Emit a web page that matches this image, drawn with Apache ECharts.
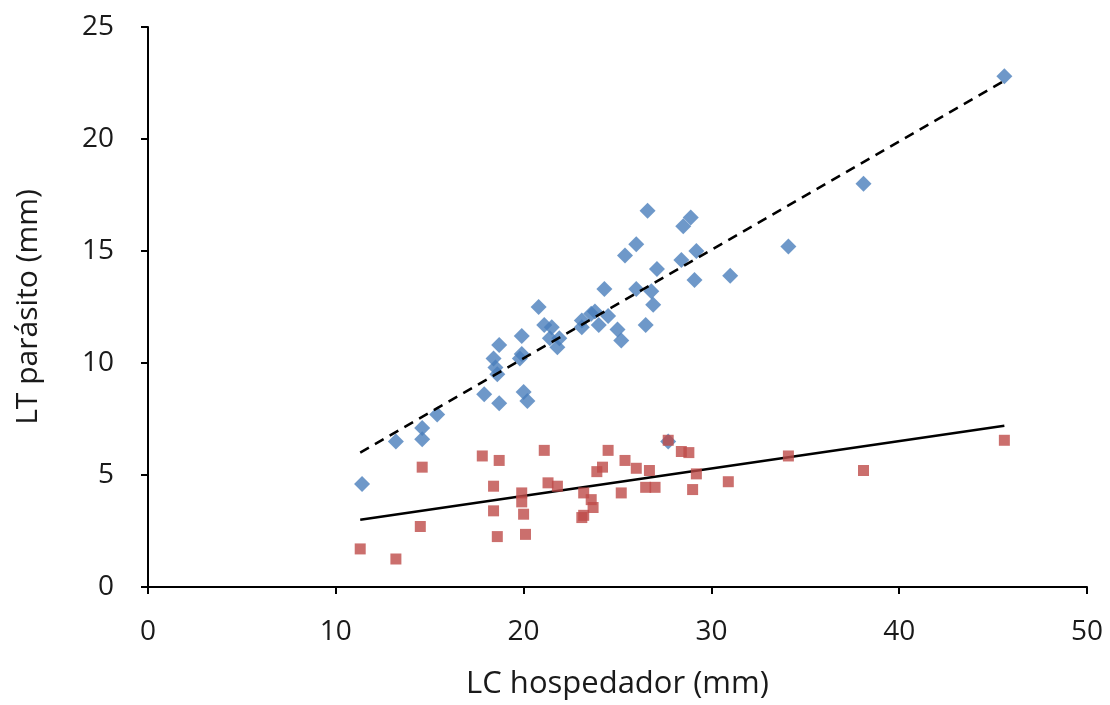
<!DOCTYPE html>
<html>
<head>
<meta charset="utf-8">
<script src="https://cdn.jsdelivr.net/npm/echarts@6/dist/echarts.min.js"></script>
<style>html,body{margin:0;padding:0;background:#fff;}#c{width:1110px;height:705px;}</style>
</head>
<body>
<div id="c"></div>
<script>
const xTicks = [0, 10, 20, 30, 40, 50];
const yTicks = [0, 5, 10, 15, 20, 25];

const blueX = [11.4, 13.2, 14.6, 14.6, 15.4, 17.9, 18.7, 18.4, 18.5, 18.6, 18.7, 19.9, 19.8, 19.9, 20.0, 20.2, 20.8, 21.1, 21.4, 21.5, 21.8, 21.9, 23.1, 23.1, 23.6, 23.8, 24.0, 24.3, 24.5, 25.0, 25.2, 25.4, 26.0, 26.0, 26.5, 26.6, 26.8, 26.9, 27.1, 27.7, 28.4, 28.5, 28.9, 29.1, 29.2, 31.0, 34.1, 38.1, 45.6];
const blueY = [4.6, 6.5, 6.6, 7.1, 7.7, 8.6, 8.2, 10.2, 9.8, 9.5, 10.8, 10.4, 10.2, 11.2, 8.7, 8.3, 12.5, 11.7, 11.1, 11.6, 10.7, 11.1, 11.6, 11.9, 12.2, 12.3, 11.7, 13.3, 12.1, 11.5, 11.0, 14.8, 15.3, 13.3, 11.7, 16.8, 13.2, 12.6, 14.2, 6.5, 14.6, 16.1, 16.5, 13.7, 15.0, 13.9, 15.2, 18.0, 22.8];

const redX = [11.3, 13.2, 14.6, 14.5, 17.8, 18.7, 18.4, 18.4, 18.6, 19.9, 19.9, 20.0, 20.1, 21.1, 21.3, 21.8, 23.2, 23.6, 23.7, 23.2, 23.1, 23.9, 24.2, 24.5, 25.2, 25.4, 26.0, 26.5, 26.7, 27.0, 27.7, 28.4, 28.8, 29.0, 29.2, 30.9, 34.1, 38.1, 45.6];
const redY = [1.7, 1.25, 5.35, 2.7, 5.85, 5.65, 4.5, 3.4, 2.25, 4.2, 3.8, 3.25, 2.35, 6.1, 4.65, 4.5, 4.2, 3.9, 3.55, 3.2, 3.1, 5.15, 5.35, 6.1, 4.2, 5.65, 5.3, 4.45, 5.2, 4.45, 6.55, 6.05, 6.0, 4.35, 5.05, 4.7, 5.85, 5.2, 6.55];

const blueTrendX = [11.3, 45.6];
const blueTrendY = [6.0, 22.6];
const redTrendX = [11.3, 45.6];
const redTrendY = [3.0, 7.2];

const zip = (a, b) => a.map((v, i) => [v, b[i]]);
const font = "'Open Sans', 'Noto Sans', sans-serif";

const chart = echarts.init(document.getElementById('c'), null, {renderer: 'canvas'});
chart.setOption({
  animation: false,
  backgroundColor: '#ffffff',
  grid: {left: 148, right: 23, top: 27, bottom: 118},
  xAxis: {
    type: 'value', min: xTicks[0], max: xTicks[xTicks.length - 1], interval: 10,
    name: 'LC hospedador (mm)', nameLocation: 'middle', nameGap: 82,
    nameTextStyle: {fontFamily: font, fontSize: 31, color: '#1a1a1a'},
    axisLine: {show: true, lineStyle: {color: '#000', width: 2}},
    axisTick: {show: true, inside: false, length: 7, lineStyle: {color: '#000', width: 2}},
    axisLabel: {margin: 31, fontFamily: font, fontSize: 28, color: '#1a1a1a'},
    splitLine: {show: false}
  },
  yAxis: {
    type: 'value', min: yTicks[0], max: yTicks[yTicks.length - 1], interval: 5,
    name: 'LT parásito (mm)', nameLocation: 'middle', nameGap: 105, nameRotate: 90,
    nameTextStyle: {fontFamily: font, fontSize: 30, color: '#1a1a1a'},
    axisLine: {show: true, lineStyle: {color: '#000', width: 2}},
    axisTick: {show: true, inside: false, length: 7, lineStyle: {color: '#000', width: 2}},
    axisLabel: {margin: 34, fontFamily: font, fontSize: 28, color: '#1a1a1a'},
    splitLine: {show: false}
  },
  series: [
    {
      type: 'line', data: zip(blueTrendX, blueTrendY), symbol: 'none',
      lineStyle: {color: '#000', width: 2.5, type: [10, 7]}, z: 3
    },
    {
      type: 'line', data: zip(redTrendX, redTrendY), symbol: 'none',
      lineStyle: {color: '#000', width: 2.5}, z: 3
    },
    {
      type: 'scatter', data: zip(blueX, blueY), symbol: 'diamond', symbolSize: [16, 16],
      itemStyle: {color: '#4A7EBB'}, z: 2
    },
    {
      type: 'scatter', data: zip(redX, redY), symbol: 'rect', symbolSize: 11,
      itemStyle: {color: '#BE4B48'}, z: 4
    }
  ]
});
</script>
</body>
</html>
